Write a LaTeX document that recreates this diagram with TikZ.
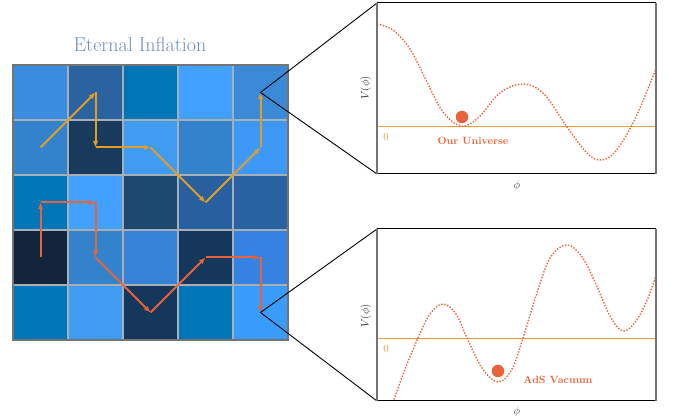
\documentclass[tikz,border=0pt]{standalone}
\usetikzlibrary{arrows.meta}
\definecolor{titleblue}{HTML}{6E8FC3}
\definecolor{pathgold}{HTML}{E39D25}
\definecolor{pathred}{HTML}{E8633A}
\definecolor{zeroorange}{HTML}{E2A040}
\definecolor{zerotext}{HTML}{E09A30}
\definecolor{gridgray}{HTML}{A6AEB6}
\definecolor{edgegray}{HTML}{747474}
\definecolor{cellA}{HTML}{3A8CE0}
\definecolor{cellB}{HTML}{2A63A0}
\definecolor{cellC}{HTML}{0075B8}
\definecolor{cellD}{HTML}{42A0FF}
\definecolor{cellE}{HTML}{3A8AD8}
\definecolor{cellF}{HTML}{3282CC}
\definecolor{cellG}{HTML}{183A5C}
\definecolor{cellH}{HTML}{409CF0}
\definecolor{cellI}{HTML}{3E98F8}
\definecolor{cellJ}{HTML}{1C4870}
\definecolor{cellK}{HTML}{285F9F}
\definecolor{cellL}{HTML}{2862A2}
\definecolor{cellM}{HTML}{12243C}
\definecolor{cellN}{HTML}{3682D8}
\definecolor{cellO}{HTML}{16375C}
\definecolor{cellP}{HTML}{3582E2}
\definecolor{cellQ}{HTML}{3A9CFA}
\tikzset{
  goldarrow/.style={draw=pathgold, line width=2pt, -{Latex[length=6.5pt,width=5.5pt]}},
  redarrow/.style={draw=pathred, line width=2pt, -{Latex[length=6.5pt,width=5.5pt]}},
  zoomline/.style={draw=black, line width=0.9pt},
  potential/.style={draw=pathred, line width=1.4pt, dash pattern=on 1.4pt off 1.6pt},
  zerol/.style={draw=zeroorange, line width=1pt},
  boxtb/.style={draw=black, line width=1pt},
  boxlr/.style={draw=edgegray, line width=1.8pt},
  ball/.style={circle, fill=pathred, inner sep=0pt, minimum size=12.5pt},
  vaclabel/.style={text=pathred, font=\fontsize{10.5}{12}\selectfont\bfseries},
  zerolabel/.style={text=zerotext, font=\fontsize{11}{13}\selectfont},
  axlabel/.style={text=black!80, font=\fontsize{11}{13}\selectfont},
  philabel/.style={text=black!70, font=\fontsize{11}{13}\selectfont}
}
\begin{document}
\begin{tikzpicture}[x=1pt,y=-1pt]
\useasboundingbox (0,0) rectangle (673,419);
% title
\node[text=titleblue, font=\fontsize{20}{24}\selectfont] (title) at (140,45) {Eternal Inflation};
% cells
\foreach \col [count=\k from 0] in {cellA,cellB,cellC,cellD,cellE, cellF,cellG,cellH,cellF,cellI, cellC,cellD,cellJ,cellK,cellL, cellM,cellF,cellN,cellO,cellP, cellC,cellH,cellO,cellC,cellQ} {
  \pgfmathtruncatemacro{\ci}{mod(\k,5)}
  \pgfmathtruncatemacro{\ri}{div(\k,5)}
  \fill[fill=\col] (13+55*\ci,65+55*\ri) rectangle ++(55,55);
}
\foreach \i in {1,2,3,4} {
  \draw[gridgray, line width=1.3pt] (13+55*\i,65) -- (13+55*\i,340);
  \draw[gridgray, line width=1.3pt] (13,65+55*\i) -- (288,65+55*\i);
}
\draw[edgegray, line width=1.2pt] (13,65) rectangle (288,340);
% cell centres
\foreach \i in {1,...,5} \foreach \j in {1,...,5} {
  \coordinate (p-\i-\j) at (13+55*\i-27.5,65+55*\j-27.5);
}
% gold path
\draw[goldarrow] (p-1-2) -- (p-2-1);
\draw[goldarrow] (p-2-1) -- (p-2-2);
\draw[goldarrow] (p-2-2) -- (p-3-2);
\draw[goldarrow] (p-3-2) -- (p-4-3);
\draw[goldarrow] (p-4-3) -- (p-5-2);
\draw[goldarrow] (p-5-2) -- (p-5-1);
% red path
\draw[redarrow] (p-1-4) -- (p-1-3);
\draw[redarrow] (p-1-3) -- (p-2-3);
\draw[redarrow] (p-2-3) -- (p-2-4);
\draw[redarrow] (p-2-4) -- (p-3-5);
\draw[redarrow] (p-3-5) -- (p-4-4);
\draw[redarrow] (p-4-4) -- (p-5-4);
\draw[redarrow] (p-5-4) -- (p-5-5);
% panel corners
\coordinate (a-nw) at (377,3);
\coordinate (a-ne) at (656,3);
\coordinate (a-sw) at (377,174);
\coordinate (a-se) at (656,174);
\coordinate (b-nw) at (377,229);
\coordinate (b-ne) at (656,229);
\coordinate (b-sw) at (377,401);
\coordinate (b-se) at (656,401);
% zoom lines
\draw[zoomline] (p-5-1) -- (a-nw);
\draw[zoomline] (p-5-1) -- (a-sw);
\draw[zoomline] (p-5-5) -- (b-nw);
\draw[zoomline] (p-5-5) -- (b-sw);
% panel 1
\begin{scope}
\clip (a-nw) rectangle (a-se);
\draw[zerol] (377,127) -- (656,127);
\draw[potential] plot[smooth, tension=0.6] coordinates {(377,24) (393,30) (410,49) (427,82) (443,112) (461,126) (478,118) (500,93) (523,84) (544,94) (567,127) (587,153) (600,160) (614,153) (631,127) (645,96) (657,66)};
\end{scope}
\draw[boxtb] (a-nw) -- (a-ne);
\draw[boxtb] (a-sw) -- (a-se);
\draw[boxlr] (a-nw) -- (a-sw);
\draw[boxlr] (a-ne) -- (a-se);
\node[ball] (ball1) at (462,117) {};
\node[vaclabel] (lab1) at (473,141) {Our Universe};
\node[zerolabel] (z1) at (386,137) {0};
\node[axlabel, rotate=90] (v1) at (366,88) {$V(\phi)$};
\node[philabel] (f1) at (517,186) {$\phi$};
% panel 2
\begin{scope}
\clip (b-nw) rectangle (b-se);
\draw[zerol] (377,339) -- (656,339);
\draw[potential] plot[smooth, tension=0.6] coordinates {(391,408) (404,372) (418,338) (430,314) (443,304) (456,314) (467,338) (482,368) (498,382) (512,369) (523,338) (536,296) (550,258) (567,245) (582,257) (595,282) (610,316) (623,331) (636,321) (648,298) (657,272)};
\end{scope}
\draw[boxtb] (b-nw) -- (b-ne);
\draw[boxtb] (b-sw) -- (b-se);
\draw[boxlr] (b-nw) -- (b-sw);
\draw[boxlr] (b-ne) -- (b-se);
\node[ball] (ball2) at (498,371) {};
\node[vaclabel] (lab2) at (558,380) {AdS Vacuum};
\node[zerolabel] (z2) at (386,349) {0};
\node[axlabel, rotate=90] (v2) at (366,316) {$V(\phi)$};
\node[philabel] (f2) at (517,412) {$\phi$};
\end{tikzpicture}
\end{document}
